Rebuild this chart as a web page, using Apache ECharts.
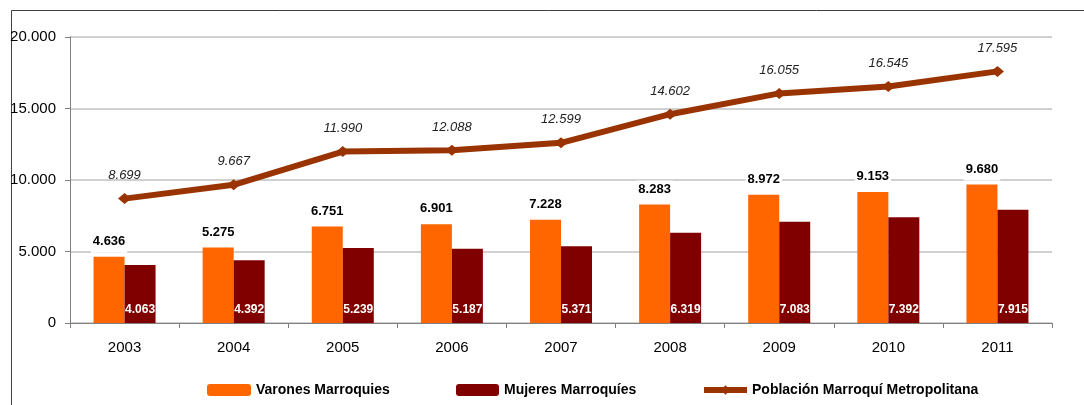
<!DOCTYPE html>
<html>
<head>
<meta charset="utf-8">
<script src="https://cdn.jsdelivr.net/npm/echarts@6/dist/echarts.min.js"></script>
<style>
  html, body { margin: 0; padding: 0; background: #fff; }
  #chart { width: 1084px; height: 405px; }
</style>
</head>
<body>
<div id="chart"></div>
<script>
// Datos
const years = ['2003', '2004', '2005', '2006', '2007', '2008', '2009', '2010', '2011'];
const varones = [4636, 5275, 6751, 6901, 7228, 8283, 8972, 9153, 9680];
const mujeres = [4063, 4392, 5239, 5187, 5371, 6319, 7083, 7392, 7915];
const poblacion = [8699, 9667, 11990, 12088, 12599, 14602, 16055, 16545, 17595];

// formato con punto de miles
function fmt(v) {
  return String(v).replace(/\B(?=(\d{3})+(?!\d))/g, '.');
}

const sans = "'Liberation Sans', Arial, sans-serif";

const chart = echarts.init(document.getElementById('chart'));

const legendText = { fontFamily: sans, fontWeight: 'bold', fontSize: 14, color: '#000' };

chart.setOption({
  animation: false,
  graphic: [{
    type: 'rect',
    shape: { x: 11.5, y: 10.5, width: 1200, height: 500 },
    style: { fill: 'none', stroke: '#404040', lineWidth: 1 },
    silent: true
  }],
  legend: [
    { data: ['Varones Marroquies'], left: 202, itemWidth: 44 },
    { data: ['Mujeres Marroquíes'], left: 451, itemWidth: 43 },
    { data: ['Población Marroquí Metropolitana'], left: 696, itemWidth: 43 }
  ].map(l => Object.assign(l, {
    top: 378,
    itemHeight: 12,
    itemGap: 4,
    lineStyle: { width: 6 },
    textStyle: legendText
  })),
  grid: { left: 70, right: 32, top: 37, bottom: 82 },
  xAxis: {
    type: 'category',
    data: years,
    axisLine: { lineStyle: { color: '#808080', width: 1 } },
    axisTick: { show: true, length: 5, lineStyle: { color: '#808080' } },
    axisLabel: { fontFamily: sans, fontSize: 15, color: '#000', margin: 17 }
  },
  yAxis: {
    type: 'value',
    min: 0, max: 20000, interval: 5000,
    axisLine: { show: true, lineStyle: { color: '#808080', width: 1 } },
    axisTick: { show: true, length: 5, lineStyle: { color: '#808080' } },
    splitLine: { lineStyle: { color: '#c0c0c0', width: 1.5 } },
    axisLabel: { fontFamily: sans, fontSize: 15, color: '#000', margin: 14, formatter: fmt }
  },
  series: [
    {
      name: 'Varones Marroquies',
      type: 'bar',
      data: varones,
      barWidth: 31,
      barGap: '0%',
      itemStyle: { color: '#ff6600' },
      label: {
        show: true,
        position: 'top',
        distance: 4,
        formatter: p => fmt(p.value),
        fontFamily: sans, fontWeight: 'bold', fontSize: 13, color: '#000',
        backgroundColor: '#fff', padding: [2, 2, 5, 2]
      }
    },
    {
      name: 'Mujeres Marroquíes',
      type: 'bar',
      data: mujeres,
      barWidth: 31,
      barGap: '0%',
      itemStyle: { color: '#800000' },
      label: {
        show: true,
        position: 'insideBottom',
        distance: 7,
        formatter: p => fmt(p.value),
        fontFamily: sans, fontWeight: 'bold', fontSize: 12, color: '#fff'
      }
    },
    {
      name: 'Población Marroquí Metropolitana',
      type: 'line',
      data: poblacion,
      z: 5,
      symbol: 'diamond',
      symbolSize: [13, 11],
      lineStyle: { color: '#993300', width: 6 },
      itemStyle: { color: '#993300' },
      label: {
        show: true,
        position: 'top',
        distance: 11,
        formatter: p => fmt(p.value),
        fontFamily: sans, fontStyle: 'italic', fontSize: 13, color: '#222'
      }
    }
  ]
});
</script>
</body>
</html>
